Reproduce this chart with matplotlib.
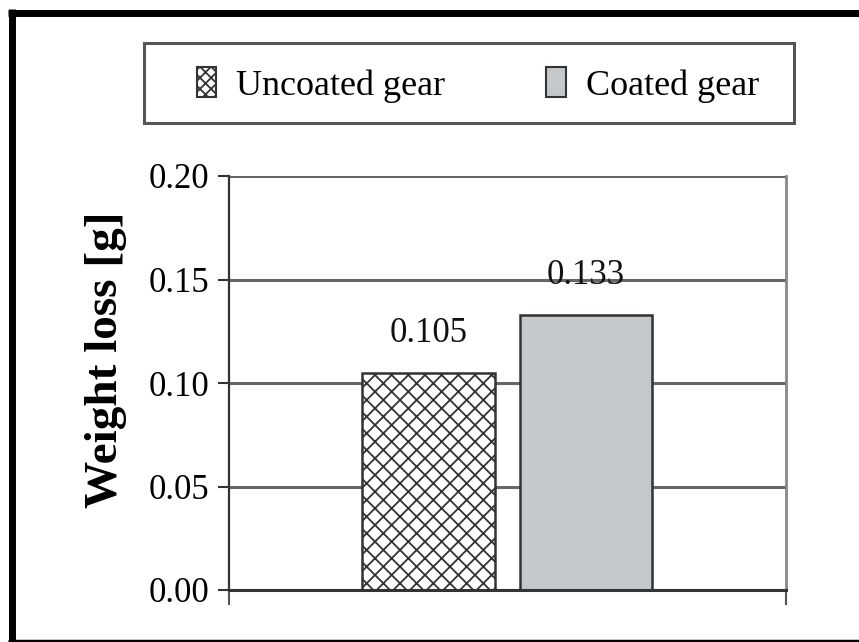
import matplotlib
matplotlib.use("Agg")
import matplotlib.pyplot as plt
from matplotlib.patches import Rectangle, Patch
from matplotlib.lines import Line2D

series = ["Uncoated gear", "Coated gear"]
values = [0.105, 0.133]
value_labels = ["0.105", "0.133"]
yticks = [0.00, 0.05, 0.10, 0.15, 0.20]
ytick_labels = ["0.00", "0.05", "0.10", "0.15", "0.20"]
ylabel = "Weight loss [g]"

plt.rcParams['font.family'] = ['Liberation Serif', 'DejaVu Serif']
plt.rcParams['hatch.linewidth'] = 1.3
plt.rcParams['hatch.color'] = '#333333'

W, H = 859, 642
fig = plt.figure(figsize=(W / 100, H / 100), dpi=100)

def fx(px):
    return px / W

def fy(py):
    return 1 - py / H

ax = fig.add_axes([fx(229), fy(590), fx(786) - fx(229), fy(176) - fy(590)])

centers = [0.358, 0.641]
width = 0.238
styles = [dict(facecolor='white', hatch='xx', edgecolor='#333333'),
          dict(facecolor='#c5c8cb', edgecolor='#333333')]
bars = []
for c, v, st in zip(centers, values, styles):
    b = ax.bar(c, v, width=width, linewidth=1.8, zorder=3, **st)
    bars.append(b[0])

for b, lab in zip(bars, value_labels):
    ax.annotate(lab, (b.get_x() + b.get_width() / 2, b.get_height()),
                xytext=(0, 28), textcoords='offset points',
                ha='center', va='center', fontsize=25, color='#111111')

ax.set_xlim(0, 1)
ax.set_ylim(0, 0.20)
ax.set_yticks(yticks)
ax.set_yticklabels(ytick_labels, fontsize=25)
ax.set_xticks([0, 1])
ax.set_xticklabels([])
ax.tick_params(axis='y', direction='out', length=8, width=1.5, color='#333333', pad=6)
ax.tick_params(axis='x', direction='out', length=11, width=1.5, color='#555555')
ax.yaxis.grid(True, color='#666666', linewidth=2.2, zorder=0)
ax.set_axisbelow(True)
ax.spines['top'].set_visible(False)
ax.spines['right'].set_color('#888888')
ax.spines['right'].set_linewidth(2)
ax.spines['left'].set_color('#333333')
ax.spines['left'].set_linewidth(1.6)
ax.spines['bottom'].set_color('#333333')
ax.spines['bottom'].set_linewidth(2.2)
ax.spines['bottom'].set_zorder(4)

ax.set_ylabel(ylabel, fontsize=34, fontweight='bold')
ax.yaxis.set_label_coords(-0.183, 0.556)

# legend box
fig.add_artist(Rectangle((fx(144), fy(123)), fx(794) - fx(144), fy(43) - fy(123),
                         transform=fig.transFigure, facecolor='white',
                         edgecolor='#555555', linewidth=2.2))
handles = [Patch(facecolor='white', hatch='xxx', edgecolor='#333333', linewidth=1.5),
           Patch(facecolor='#c5c8cb', edgecolor='#333333', linewidth=1.5)]
fig.legend(handles, series, loc='center', bbox_to_anchor=(fx(478), fy(85)),
           ncol=2, frameon=False, fontsize=26, handlelength=0.55, handleheight=0.9,
           handletextpad=0.55, columnspacing=2.8)

# outer frame
fig.add_artist(Line2D([fx(11.5), fx(11.5)], [fy(9), fy(642)], transform=fig.transFigure,
                      color='black', linewidth=5, solid_capstyle='butt'))
fig.add_artist(Line2D([fx(8), fx(859)], [fy(12.5), fy(12.5)], transform=fig.transFigure,
                      color='black', linewidth=5, solid_capstyle='butt'))
fig.add_artist(Line2D([fx(8), fx(859)], [fy(640.5), fy(640.5)], transform=fig.transFigure,
                      color='black', linewidth=2.5, solid_capstyle='butt'))

fig.savefig("out.png", dpi=100)
